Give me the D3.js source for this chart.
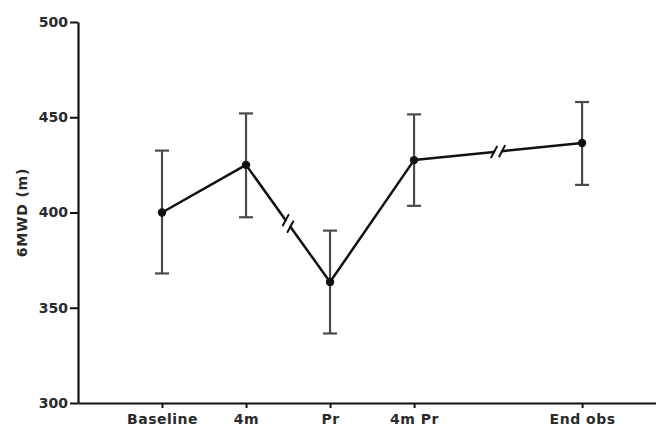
<!DOCTYPE html>
<html lang="en">
<head>
  <meta charset="UTF-8">
  <title>6MWD over time</title>
  <style>
    body { margin: 0; background: #fff; }
    text { font-family: "DejaVu Sans", sans-serif; font-weight: bold; fill: #2a2a2a; }
  </style>
</head>
<body>
  <div id="graph-container"></div>
  <script src="https://d3js.org/d3.v7.min.js"></script>
  <script>
    // time points (x position on the axis, the gap at 5 is left empty)
    const labels = ["Baseline", "4m", "Pr", "4m Pr", "End obs"];
    const positions = [1, 2, 3, 4, 6];
    // mean 6MWD and error bar ends
    const means = [400, 425, 363.5, 427.5, 436.5];
    const upper = [432.5, 452, 390.5, 451.5, 458];
    const lower = [368, 397.5, 336.5, 403.5, 414.5];
    // segments that carry a "//" break mark (index of first point)
    const breaks = [1, 3];
    const yTicks = [300, 350, 400, 450, 500];

    const W = 656, H = 431;
    const margin = { top: 22, right: 0, bottom: 28, left: 78 };

    const svg = d3.select("#graph-container")
      .append("svg")
        .attr("width", W)
        .attr("height", H);

    const x = d3.scaleLinear()
      .domain([0, 6.88])
      .range([margin.left, W - margin.right]);

    const y = d3.scaleLinear()
      .domain([300, 500])
      .range([H - margin.bottom, margin.top]);

    // y axis
    const yAxis = svg.append("g")
      .attr("transform", `translate(${margin.left},0)`)
      .call(d3.axisLeft(y).tickValues(yTicks).tickSize(8).tickPadding(2).tickSizeOuter(0));
    yAxis.select(".domain").attr("stroke", "#111").attr("stroke-width", 2.2);
    yAxis.selectAll(".tick line").attr("stroke", "#111").attr("stroke-width", 2);
    yAxis.selectAll(".tick text").attr("font-size", 14).attr("font-family", null).attr("fill", null);

    // x axis
    const xAxis = svg.append("g")
      .attr("transform", `translate(0,${y(300)})`)
      .call(d3.axisBottom(x).tickValues(positions).tickFormat((d, i) => labels[i])
        .tickSize(5).tickPadding(6).tickSizeOuter(0));
    xAxis.select(".domain").attr("stroke", "#111").attr("stroke-width", 2.2);
    xAxis.selectAll(".tick line").attr("stroke", "#111").attr("stroke-width", 2);
    xAxis.selectAll(".tick text").attr("font-size", 14).attr("letter-spacing", 0.5)
      .attr("font-family", null).attr("fill", null);

    // y axis title
    svg.append("text")
      .attr("transform", `translate(27,${(y(300) + y(500)) / 2}) rotate(-90)`)
      .attr("text-anchor", "middle")
      .attr("font-size", 14)
      .attr("letter-spacing", 0.8)
      .text("6MWD (m)");

    const pts = positions.map((p, i) => ({ px: x(p), py: y(means[i]) }));

    // error bars
    const capW = 7;
    const eb = svg.append("g").attr("stroke", "#4a4a4a").attr("stroke-width", 2.2);
    positions.forEach((p, i) => {
      eb.append("line")
        .attr("x1", x(p)).attr("x2", x(p))
        .attr("y1", y(lower[i])).attr("y2", y(upper[i]));
      [lower[i], upper[i]].forEach(v => {
        eb.append("line")
          .attr("x1", x(p) - capW).attr("x2", x(p) + capW)
          .attr("y1", y(v)).attr("y2", y(v));
      });
    });

    // connecting line, with broken segments
    const ln = svg.append("g").attr("stroke", "#111").attr("stroke-width", 2.5)
      .attr("stroke-linecap", "round");
    const gap = 4, slash = 6;
    // slashes drawn as "//" at a fixed screen angle
    const ang = -62 * Math.PI / 180;
    const sx = Math.cos(ang), sy = Math.sin(ang);
    for (let i = 0; i < pts.length - 1; i++) {
      const a = pts[i], b = pts[i + 1];
      if (!breaks.includes(i)) {
        ln.append("line").attr("x1", a.px).attr("y1", a.py).attr("x2", b.px).attr("y2", b.py);
        continue;
      }
      const dx = b.px - a.px, dy = b.py - a.py, len = Math.hypot(dx, dy);
      const ux = dx / len, uy = dy / len;
      const mx = (a.px + b.px) / 2, my = (a.py + b.py) / 2;
      const g1 = { x: mx - ux * gap, y: my - uy * gap };
      const g2 = { x: mx + ux * gap, y: my + uy * gap };
      ln.append("line").attr("x1", a.px).attr("y1", a.py).attr("x2", g1.x).attr("y2", g1.y);
      ln.append("line").attr("x1", g2.x).attr("y1", g2.y).attr("x2", b.px).attr("y2", b.py);
      [g1, g2].forEach(g => {
        ln.append("line")
          .attr("stroke-width", 2)
          .attr("x1", g.x - sx * slash).attr("y1", g.y - sy * slash)
          .attr("x2", g.x + sx * slash).attr("y2", g.y + sy * slash);
      });
    }

    // points
    svg.append("g").selectAll("circle")
      .data(pts)
      .enter()
      .append("circle")
        .attr("cx", d => d.px)
        .attr("cy", d => d.py)
        .attr("r", 4.2)
        .attr("fill", "#111");
  </script>
</body>
</html>
